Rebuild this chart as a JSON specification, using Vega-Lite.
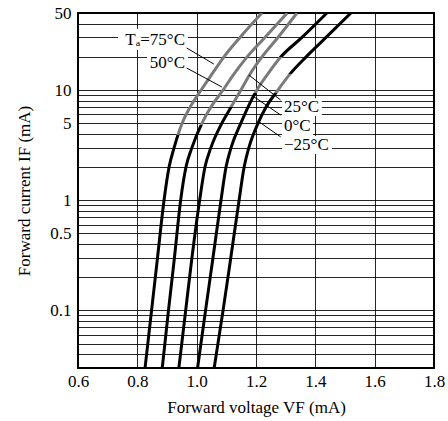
{
  "$schema": "https://vega.github.io/schema/vega-lite/v6.json",
  "width": 356,
  "height": 355,
  "autosize": {"type": "none"},
  "padding": {"left": 78, "top": 13, "right": 14, "bottom": 53},
  "background": "white",
  "config": {
    "view": {"stroke": "#000", "strokeWidth": 2},
    "font": "Liberation Serif",
    "text": {"font": "Liberation Serif"}
  },
  "datasets": {
    "curves": [
      {"t": "75", "i": 0.03, "v": 0.826},
      {"t": "75", "i": 0.1, "v": 0.848},
      {"t": "75", "i": 0.3, "v": 0.868},
      {"t": "75", "i": 1, "v": 0.890},
      {"t": "75", "i": 2, "v": 0.907},
      {"t": "75", "i": 3, "v": 0.924},
      {"t": "75", "i": 5, "v": 0.951},
      {"t": "75", "i": 7, "v": 0.978},
      {"t": "75", "i": 10, "v": 1.015},
      {"t": "75", "i": 14, "v": 1.052},
      {"t": "75", "i": 20, "v": 1.092},
      {"t": "75", "i": 30, "v": 1.146},
      {"t": "75", "i": 50, "v": 1.220},
      {"t": "50", "i": 0.03, "v": 0.884},
      {"t": "50", "i": 0.1, "v": 0.905},
      {"t": "50", "i": 0.3, "v": 0.925},
      {"t": "50", "i": 1, "v": 0.946},
      {"t": "50", "i": 2, "v": 0.964},
      {"t": "50", "i": 3, "v": 0.984},
      {"t": "50", "i": 5, "v": 1.018},
      {"t": "50", "i": 7, "v": 1.048},
      {"t": "50", "i": 10, "v": 1.089},
      {"t": "50", "i": 14, "v": 1.126},
      {"t": "50", "i": 20, "v": 1.170},
      {"t": "50", "i": 30, "v": 1.230},
      {"t": "50", "i": 50, "v": 1.305},
      {"t": "25", "i": 0.03, "v": 0.940},
      {"t": "25", "i": 0.1, "v": 0.963},
      {"t": "25", "i": 0.3, "v": 0.984},
      {"t": "25", "i": 1, "v": 1.010},
      {"t": "25", "i": 2, "v": 1.028},
      {"t": "25", "i": 3, "v": 1.048},
      {"t": "25", "i": 5, "v": 1.085},
      {"t": "25", "i": 7, "v": 1.116},
      {"t": "25", "i": 10, "v": 1.149},
      {"t": "25", "i": 14, "v": 1.180},
      {"t": "25", "i": 20, "v": 1.220},
      {"t": "25", "i": 30, "v": 1.274},
      {"t": "25", "i": 50, "v": 1.338},
      {"t": "0", "i": 0.03, "v": 1.003},
      {"t": "0", "i": 0.1, "v": 1.030},
      {"t": "0", "i": 0.3, "v": 1.055},
      {"t": "0", "i": 1, "v": 1.082},
      {"t": "0", "i": 2, "v": 1.099},
      {"t": "0", "i": 3, "v": 1.116},
      {"t": "0", "i": 5, "v": 1.149},
      {"t": "0", "i": 7, "v": 1.173},
      {"t": "0", "i": 10, "v": 1.203},
      {"t": "0", "i": 14, "v": 1.240},
      {"t": "0", "i": 20, "v": 1.284},
      {"t": "0", "i": 30, "v": 1.355},
      {"t": "0", "i": 50, "v": 1.439},
      {"t": "-25", "i": 0.03, "v": 1.059},
      {"t": "-25", "i": 0.1, "v": 1.089},
      {"t": "-25", "i": 0.3, "v": 1.115},
      {"t": "-25", "i": 1, "v": 1.143},
      {"t": "-25", "i": 2, "v": 1.160},
      {"t": "-25", "i": 3, "v": 1.176},
      {"t": "-25", "i": 5, "v": 1.207},
      {"t": "-25", "i": 7, "v": 1.234},
      {"t": "-25", "i": 10, "v": 1.274},
      {"t": "-25", "i": 14, "v": 1.315},
      {"t": "-25", "i": 20, "v": 1.369},
      {"t": "-25", "i": 30, "v": 1.436},
      {"t": "-25", "i": 50, "v": 1.520}
    ],
    "boxes": [
      {"v1": 0.735, "v2": 0.971, "i1": 23.1, "i2": 36.0},
      {"v1": 0.833, "v2": 0.971, "i1": 14.3, "i2": 21.7},
      {"v1": 1.288, "v2": 1.422, "i1": 5.81, "i2": 8.44},
      {"v1": 1.288, "v2": 1.392, "i1": 3.90, "i2": 5.68},
      {"v1": 1.288, "v2": 1.456, "i1": 2.62, "i2": 3.82}
    ],
    "leaders": [
      {"v1": 0.966, "i1": 24.1, "v2": 1.058, "i2": 17.2},
      {"v1": 0.966, "i1": 15.85, "v2": 1.085, "i2": 10.65},
      {"v1": 1.283, "i1": 8.11, "v2": 1.176, "i2": 13.69},
      {"v1": 1.283, "i1": 5.93, "v2": 1.193, "i2": 8.69},
      {"v1": 1.283, "i1": 3.76, "v2": 1.210, "i2": 5.15}
    ],
    "labelsLeft": [
      {"v": 0.9607, "i": 28.5, "t": "Tₐ=75°C"},
      {"v": 0.9607, "i": 17.6, "t": "50°C"}
    ],
    "labelsRight": [
      {"v": 1.2944, "i": 7.01, "t": "25°C"},
      {"v": 1.2944, "i": 4.71, "t": "0°C"},
      {"v": 1.2944, "i": 3.16, "t": "−25°C"}
    ]
  },
  "layer": [
    {
      "data": {"name": "curves"},
      "transform": [{"filter": "datum.t == '75'"}],
      "mark": {"type": "line", "strokeWidth": 3, "interpolate": "monotone", "clip": true,
        "color": {"gradient": "linear", "x1": 0, "y1": 0, "x2": 0, "y2": 1,
          "stops": [{"offset": 0, "color": "#7a7a7a"}, {"offset": 0.344, "color": "#7a7a7a"}, {"offset": 0.344, "color": "#000000"}, {"offset": 1, "color": "#000000"}]}},
      "encoding": {
        "x": {
          "field": "v", "type": "quantitative",
          "scale": {"domain": [0.6, 1.8], "nice": false, "zero": false},
          "axis": {
            "values": [0.6, 0.8, 1.0, 1.2, 1.4, 1.6, 1.8],
            "format": ".1f",
            "grid": true, "gridColor": "#000", "gridWidth": 1, "gridOpacity": 0.85,
            "ticks": false, "domain": false,
            "labelFont": "Liberation Serif", "labelFontSize": 17, "labelColor": "#000", "labelPadding": 5,
            "labelOverlap": false, "labelBound": false, "labelFlush": false,
            "title": "Forward voltage VF (mA)",
            "titleFont": "Liberation Serif", "titleFontSize": 17, "titleFontWeight": "normal", "titleColor": "#000", "titlePadding": 10
          }
        },
        "y": {
          "field": "i", "type": "quantitative",
          "scale": {"type": "log", "domain": [0.03, 50], "nice": false},
          "axis": {
            "values": [0.03, 0.04, 0.05, 0.06, 0.07, 0.08, 0.09, 0.1, 0.2, 0.3, 0.4, 0.5, 0.6, 0.7, 0.8, 0.9, 1, 2, 3, 4, 5, 6, 7, 8, 9, 10, 20, 30, 40, 50],
            "format": "~g",
            "labelExpr": "indexof([0.1, 0.5, 1, 5, 10, 50], datum.value) >= 0 ? datum.label : ''",
            "grid": true, "gridColor": "#000", "gridWidth": 1, "gridOpacity": 0.85,
            "ticks": false, "domain": false,
            "labelFont": "Liberation Serif", "labelFontSize": 17, "labelColor": "#000", "labelPadding": 7,
            "labelOverlap": false, "labelBound": false, "labelFlush": false,
            "title": "Forward current IF (mA)",
            "titleFont": "Liberation Serif", "titleFontSize": 17, "titleFontWeight": "normal", "titleColor": "#000", "titlePadding": 16
          }
        }
      }
    },
    {
      "data": {"name": "curves"},
      "transform": [{"filter": "datum.t == '50'"}],
      "mark": {"type": "line", "strokeWidth": 3, "interpolate": "monotone", "clip": true,
        "color": {"gradient": "linear", "x1": 0, "y1": 0, "x2": 0, "y2": 1,
          "stops": [{"offset": 0, "color": "#7a7a7a"}, {"offset": 0.315, "color": "#7a7a7a"}, {"offset": 0.315, "color": "#000000"}, {"offset": 1, "color": "#000000"}]}},
      "encoding": {
        "x": {"field": "v", "type": "quantitative", "scale": {"domain": [0.6, 1.8], "nice": false, "zero": false}},
        "y": {"field": "i", "type": "quantitative", "scale": {"type": "log", "domain": [0.03, 50], "nice": false}}
      }
    },
    {
      "data": {"name": "curves"},
      "transform": [{"filter": "datum.t == '25'"}],
      "mark": {"type": "line", "strokeWidth": 3, "interpolate": "monotone", "clip": true,
        "color": {"gradient": "linear", "x1": 0, "y1": 0, "x2": 0, "y2": 1,
          "stops": [{"offset": 0, "color": "#7a7a7a"}, {"offset": 0.265, "color": "#7a7a7a"}, {"offset": 0.265, "color": "#000000"}, {"offset": 1, "color": "#000000"}]}},
      "encoding": {
        "x": {"field": "v", "type": "quantitative", "scale": {"domain": [0.6, 1.8], "nice": false, "zero": false}},
        "y": {"field": "i", "type": "quantitative", "scale": {"type": "log", "domain": [0.03, 50], "nice": false}}
      }
    },
    {
      "data": {"name": "curves"},
      "transform": [{"filter": "datum.t == '0'"}],
      "mark": {"type": "line", "strokeWidth": 3, "interpolate": "monotone", "clip": true,
        "color": {"gradient": "linear", "x1": 0, "y1": 0, "x2": 0, "y2": 1,
          "stops": [{"offset": 0, "color": "#000000"}, {"offset": 0.124, "color": "#000000"}, {"offset": 0.124, "color": "#7a7a7a"}, {"offset": 0.225, "color": "#7a7a7a"}, {"offset": 0.225, "color": "#000000"}, {"offset": 1, "color": "#000000"}]}},
      "encoding": {
        "x": {"field": "v", "type": "quantitative", "scale": {"domain": [0.6, 1.8], "nice": false, "zero": false}},
        "y": {"field": "i", "type": "quantitative", "scale": {"type": "log", "domain": [0.03, 50], "nice": false}}
      }
    },
    {
      "data": {"name": "curves"},
      "transform": [{"filter": "datum.t == '-25'"}],
      "mark": {"type": "line", "strokeWidth": 3, "interpolate": "monotone", "clip": true,
        "color": {"gradient": "linear", "x1": 0, "y1": 0, "x2": 0, "y2": 1,
          "stops": [{"offset": 0, "color": "#000000"}, {"offset": 0.172, "color": "#000000"}, {"offset": 0.172, "color": "#7a7a7a"}, {"offset": 0.225, "color": "#7a7a7a"}, {"offset": 0.225, "color": "#000000"}, {"offset": 1, "color": "#000000"}]}},
      "encoding": {
        "x": {"field": "v", "type": "quantitative", "scale": {"domain": [0.6, 1.8], "nice": false, "zero": false}},
        "y": {"field": "i", "type": "quantitative", "scale": {"type": "log", "domain": [0.03, 50], "nice": false}}
      }
    },
    {
      "data": {"name": "boxes"},
      "mark": {"type": "rect", "color": "white"},
      "encoding": {
        "x": {"field": "v1", "type": "quantitative", "scale": {"domain": [0.6, 1.8], "nice": false, "zero": false}},
        "x2": {"field": "v2"},
        "y": {"field": "i1", "type": "quantitative", "scale": {"type": "log", "domain": [0.03, 50], "nice": false}},
        "y2": {"field": "i2"}
      }
    },
    {
      "data": {"name": "leaders"},
      "mark": {"type": "rule", "color": "#000", "strokeWidth": 1},
      "encoding": {
        "x": {"field": "v1", "type": "quantitative", "scale": {"domain": [0.6, 1.8], "nice": false, "zero": false}},
        "x2": {"field": "v2"},
        "y": {"field": "i1", "type": "quantitative", "scale": {"type": "log", "domain": [0.03, 50], "nice": false}},
        "y2": {"field": "i2"}
      }
    },
    {
      "data": {"name": "labelsLeft"},
      "mark": {"type": "text", "align": "right", "baseline": "middle", "fontSize": 17, "color": "#000", "font": "Liberation Serif"},
      "encoding": {
        "x": {"field": "v", "type": "quantitative", "scale": {"domain": [0.6, 1.8], "nice": false, "zero": false}},
        "y": {"field": "i", "type": "quantitative", "scale": {"type": "log", "domain": [0.03, 50], "nice": false}},
        "text": {"field": "t"}
      }
    },
    {
      "data": {"name": "labelsRight"},
      "mark": {"type": "text", "align": "left", "baseline": "middle", "fontSize": 17, "color": "#000", "font": "Liberation Serif"},
      "encoding": {
        "x": {"field": "v", "type": "quantitative", "scale": {"domain": [0.6, 1.8], "nice": false, "zero": false}},
        "y": {"field": "i", "type": "quantitative", "scale": {"type": "log", "domain": [0.03, 50], "nice": false}},
        "text": {"field": "t"}
      }
    }
  ]
}
